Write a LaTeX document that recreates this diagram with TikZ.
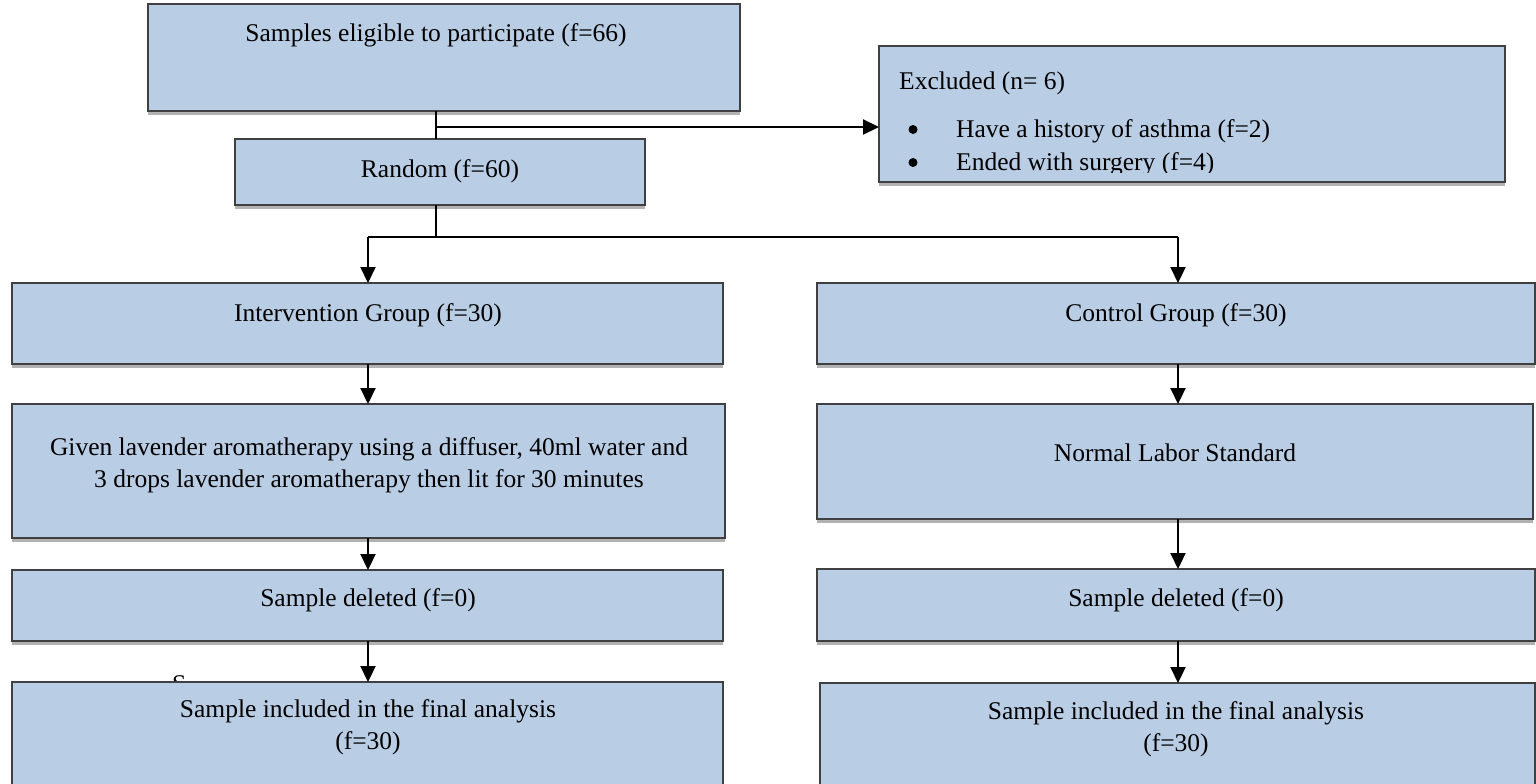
\documentclass[tikz,border=0pt]{standalone}
\usepackage{fontspec}
\setmainfont{Liberation Serif}
\usetikzlibrary{arrows.meta,shadows}
\definecolor{boxfill}{HTML}{B9CDE5}
\definecolor{boxline}{HTML}{404040}
\begin{document}
\begin{tikzpicture}[x=1pt,y=-1pt,
  box/.style={draw=boxline, line width=1.2pt, fill=boxfill, inner sep=0pt, outer sep=0pt,
    drop shadow={shadow xshift=0pt, shadow yshift=-4pt, opacity=0.3, fill=black}},
  txt/.style={anchor=base, inner sep=0pt, font=\fontsize{25.5}{32}\selectfont},
  bul/.style={circle, fill=black, inner sep=0pt, minimum size=9pt},
  conn/.style={line width=2.2pt, draw=black},
  arr/.style={conn, -{Triangle[width=15pt,length=16pt]}}]
\useasboundingbox (0,0) rectangle (1536,784);

% stray partially hidden text
\node[txt, anchor=base west] (stray) at (172,692) {S};

% boxes
\node[box, minimum width=592pt, minimum height=107pt] (b1) at (444,57.5) {};
\node[box, minimum width=410pt, minimum height=66pt] (rand) at (440,172) {};
\node[box, minimum width=626pt, minimum height=136pt] (excl) at (1192,114) {};
\node[box, minimum width=711pt, minimum height=81pt] (intv) at (367.5,323.5) {};
\node[box, minimum width=718pt, minimum height=81pt] (ctrl) at (1176,323.5) {};
\node[box, minimum width=713pt, minimum height=134pt] (lav) at (368.5,471) {};
\node[box, minimum width=716pt, minimum height=115pt] (norm) at (1175,461.5) {};
\node[box, minimum width=711pt, minimum height=71pt] (del1) at (367.5,605.5) {};
\node[box, minimum width=718pt, minimum height=72pt] (del2) at (1176,605) {};
\node[box, minimum width=711pt, minimum height=118pt] (fin1) at (367.5,741) {};
\node[box, minimum width=715pt, minimum height=117pt] (fin2) at (1177.5,741.5) {};

% texts
\node[txt] (t1) at (436,42) {Samples eligible to participate (f=66)};
\node[txt] (t2) at (440,177) {Random (f=60)};
\node[txt, anchor=base west] (t3) at (899,89) {Excluded (n= 6)};
\node[bul] (b1d) at (913,129.5) {};
\node[bul] (b2d) at (913,162.5) {};
\begin{scope}
  \clip (880,47) rectangle (1504,172);
  \node[txt, anchor=base west] (t4) at (956,137) {Have a history of asthma (f=2)};
  \node[txt, anchor=base west] (t5) at (956,170) {Ended with surgery (f=4)};
\end{scope}
\node[txt] (t6) at (368,321) {Intervention Group (f=30)};
\node[txt] (t7) at (1176,321) {Control Group (f=30)};
\node[txt] (t8) at (369,455) {Given lavender aromatherapy using a diffuser, 40ml water and};
\node[txt] (t9) at (369,487) {3 drops lavender aromatherapy then lit for 30 minutes};
\node[txt] (t10) at (1175,461) {Normal Labor Standard};
\node[txt] (t11) at (368,606) {Sample deleted (f=0)};
\node[txt] (t12) at (1176,606) {Sample deleted (f=0)};
\node[txt] (t13) at (368,717) {Sample included in the final analysis};
\node[txt] (t14) at (368,749) {(f=30)};
\node[txt] (t15) at (1176,719) {Sample included in the final analysis};
\node[txt] (t16) at (1176,751) {(f=30)};

% connectors
\coordinate (j1) at (436,127);
\coordinate (j2) at (436,237);
\coordinate (cL) at (368,237);
\coordinate (cR) at (1178,237);
\draw[conn] (b1.south -| j1) -- (rand.north -| j1);
\draw[arr] (j1) -- (excl.west |- j1);
\draw[conn] (rand.south -| j2) -- (j2);
\draw[conn] (cL) -- (cR);
\draw[arr] (cL) -- (intv.north -| cL);
\draw[arr] (cR) -- (ctrl.north -| cR);
\draw[arr] (intv.south -| cL) -- (lav.north -| cL);
\draw[arr] (ctrl.south -| cR) -- (norm.north -| cR);
\draw[arr] (lav.south -| cL) -- (del1.north -| cL);
\draw[arr] (norm.south -| cR) -- (del2.north -| cR);
\draw[arr] (del1.south -| cL) -- (fin1.north -| cL);
\draw[arr] (del2.south -| cR) -- (fin2.north -| cR);
\end{tikzpicture}
\end{document}
